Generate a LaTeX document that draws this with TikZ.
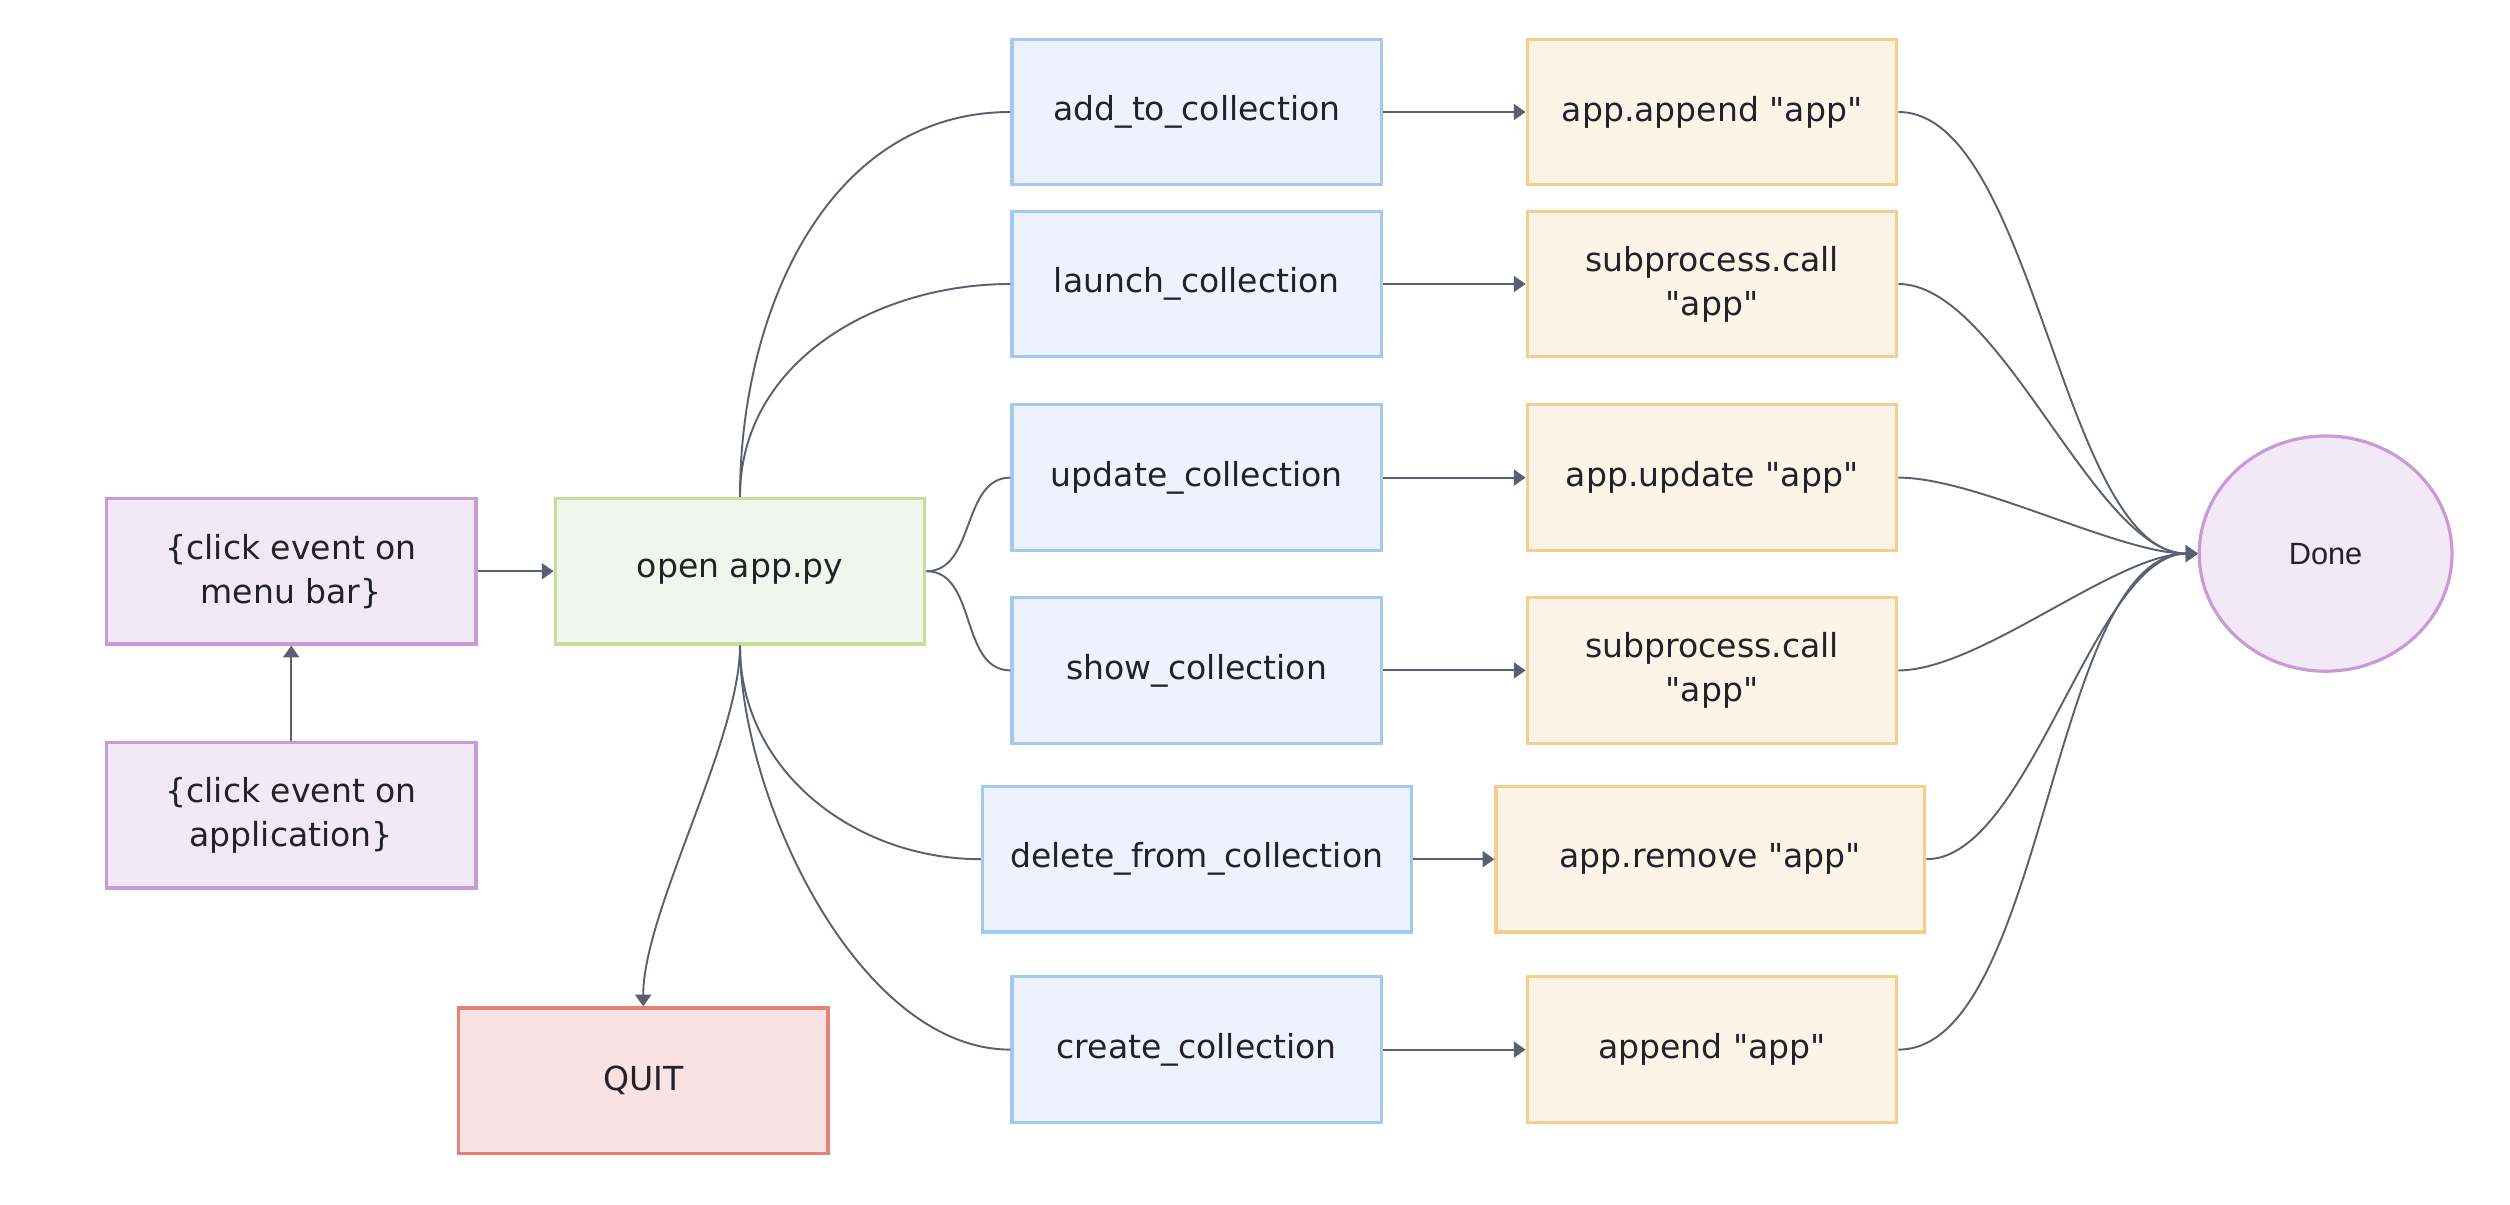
\documentclass[tikz,border=0pt]{standalone}
\usepackage{fontspec}
\setmainfont{DejaVu Sans}[Ligatures=TeXOff]
\newfontfamily\donefont{Liberation Sans}
\usetikzlibrary{arrows.meta,shapes.geometric}

\definecolor{linkgray}{RGB}{90,96,114}
\definecolor{textdark}{RGB}{34,34,40}
\definecolor{purplefill}{RGB}{243,232,245}
\definecolor{purpleline}{RGB}{201,154,214}
\definecolor{greenfill}{RGB}{240,246,236}
\definecolor{greenline}{RGB}{198,222,156}
\definecolor{bluefill}{RGB}{236,243,253}
\definecolor{blueline}{RGB}{164,200,244}
\definecolor{orangefill}{RGB}{253,244,232}
\definecolor{orangeline}{RGB}{246,205,142}
\definecolor{redfill}{RGB}{248,226,226}
\definecolor{redline}{RGB}{229,129,119}

\begin{document}
\begin{tikzpicture}[
    x=0.75pt, y=-0.75pt,
    >={Triangle[length=5.5pt,width=7.5pt]},
    box/.style={draw, line width=1.5pt, minimum width=173.25pt, minimum height=68.25pt,
        inner sep=0pt, align=center, text=textdark, font=\fontsize{15.5}{20.6}\selectfont},
    wide_box/.style={minimum width=201pt},
    click_box/.style={box, draw=purpleline, fill=purplefill},
    open_box/.style={box, draw=greenline, fill=greenfill},
    action_box/.style={box, draw=blueline, fill=bluefill},
    call_box/.style={box, draw=orangeline, fill=orangefill},
    quit_box/.style={box, draw=redline, fill=redfill},
    done_node/.style={ellipse, draw=purpleline, fill=purplefill, line width=1.5pt,
        minimum width=118.5pt, minimum height=110.25pt, inner sep=0pt,
        text=textdark, font=\donefont\fontsize{14.4}{17}\selectfont},
    link/.style={draw=linkgray, line width=0.9pt}
]

\useasboundingbox (0,0) rectangle (1568.75,752.5);

% Start nodes
\node[click_box] (menu) at (182,357) {\{click event on\\menu bar\}};
\node[click_box] (appclick) at (182,509.5) {\{click event on\\application\}};
\node[open_box] (open) at (462.5,357) {open app.py};
\node[quit_box] (quit) at (402,675.5) {QUIT};

% Actions
\node[action_box] (add) at (748,70) {add\_to\_collection};
\node[action_box] (launch) at (748,177.5) {launch\_collection};
\node[action_box] (update) at (748,298.5) {update\_collection};
\node[action_box] (show) at (748,419) {show\_collection};
\node[action_box, wide_box] (delete) at (748,537) {delete\_from\_collection};
\node[action_box] (create) at (748,656) {create\_collection};

% Calls
\node[call_box] (append) at (1070,70) {app.append "app"};
\node[call_box] (launchcall) at (1070,177.5) {subprocess.call\\"app"};
\node[call_box] (updatecall) at (1070,298.5) {app.update "app"};
\node[call_box] (showcall) at (1070,419) {subprocess.call\\"app"};
\node[call_box, wide_box] (remove) at (1069,537) {app.remove "app"};
\node[call_box] (createcall) at (1070,656) {append "app"};

\node[done_node] (done) at (1453.5,346) {Done};

% Connectors on the left
\draw[link, ->] (appclick.north) -- (menu.south);
\draw[link, ->] (menu.east) -- (open.west);
\draw[link, ->] (open.south) to[out=-90, in=90, looseness=0.65] (quit.north);

% open app.py to the actions
\draw[link] (open.north) to[out=90, in=180] (add.west);
\draw[link] (open.north) to[out=90, in=180] (launch.west);
\draw[link] (open.east) to[out=0, in=180] (update.west);
\draw[link] (open.east) to[out=0, in=180] (show.west);
\draw[link] (open.south) to[out=-90, in=180] (delete.west);
\draw[link] (open.south) to[out=-90, in=180, looseness=0.8] (create.west);

% actions to calls
\foreach \a/\c in {add/append, launch/launchcall, update/updatecall,
                   show/showcall, delete/remove, create/createcall}
    \draw[link, ->] (\a.east) -- (\c.west);

% calls to Done
\foreach \c in {append, launchcall, updatecall, showcall, remove, createcall}
    \draw[link, ->] (\c.east) to[out=0, in=180, looseness=0.65] (done.west);

\end{tikzpicture}
\end{document}
